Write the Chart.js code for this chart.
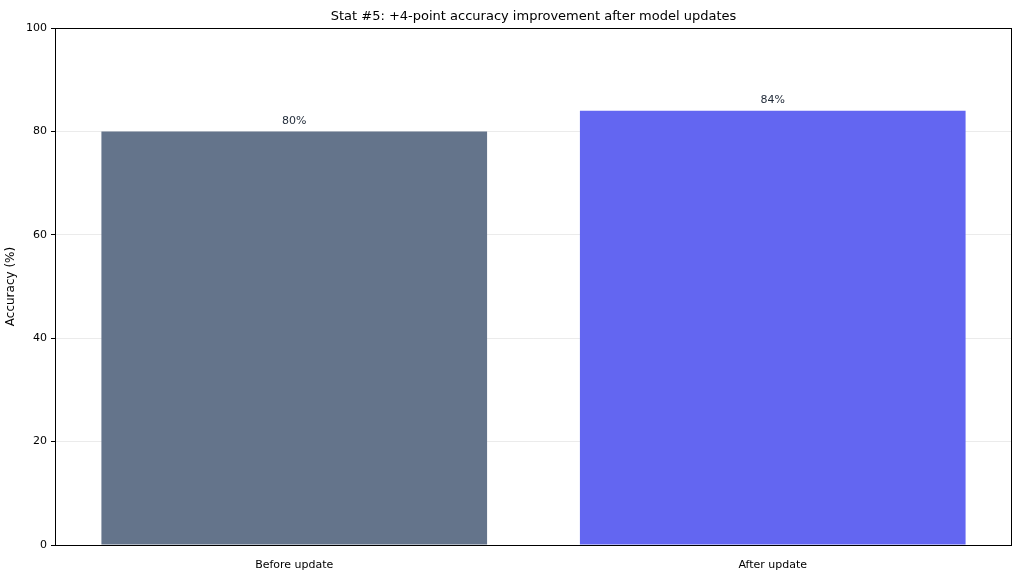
<!DOCTYPE html>
<html><head><meta charset="utf-8">
<script src="https://cdn.jsdelivr.net/npm/chart.js@4/dist/chart.umd.min.js"></script>
<style>html,body{margin:0;padding:0;background:#fff}#w{width:1024px;height:576px}</style>
</head><body><div id="w"><canvas id="c"></canvas></div>
<script>
const categories = ["Before update", "After update"];
const accuracy = [80, 84];
const valueLabels = ["80%", "84%"];
const yTicks = [0, 20, 40, 60, 80, 100];
const barColors = ["#64748b", "#6366f1"];
const titleText = "Stat #5: +4-point accuracy improvement after model updates";
const FONT = "'DejaVu Sans', sans-serif";

const deco = {
  id: 'deco',
  afterDatasetsDraw(chart) {
    const {ctx, chartArea: a} = chart;
    const meta = chart.getDatasetMeta(0);
    ctx.save();
    ctx.fillStyle = '#1f2937';
    ctx.font = "11px " + FONT;
    ctx.textAlign = 'center';
    ctx.textBaseline = 'bottom';
    meta.data.forEach((b, i) => ctx.fillText(valueLabels[i], b.x, b.y - 5));
    ctx.strokeStyle = '#000'; ctx.lineWidth = 1;
    ctx.strokeRect(a.left + 0.5, a.top + 0.5, a.right - a.left - 1, a.bottom - a.top);
    ctx.fillStyle = '#000';
    ctx.font = "13px " + FONT;
    ctx.textBaseline = 'middle';
    ctx.fillText(titleText, (a.left + a.right) / 2, 17);
    ctx.restore();
  }
};

new Chart(document.getElementById('c'), {
  type: 'bar',
  data: { labels: categories, datasets: [{ data: accuracy, backgroundColor: barColors, categoryPercentage: 1, barPercentage: 0.806 }] },
  options: {
    responsive: true, maintainAspectRatio: false, animation: false,
    layout: { padding: { top: 28, right: 12, left: 0, bottom: 0 } },
    plugins: { legend: { display: false }, tooltip: { enabled: false } },
    scales: {
      x: {
        grid: { display: false, drawTicks: true },
        border: { display: false },
        ticks: { color: '#000', font: { family: FONT, size: 11 }, padding: 6 },
        afterFit(s) { s.height = 31; }
      },
      y: {
        min: 0, max: 100,
        afterBuildTicks(s) { s.ticks = yTicks.map(v => ({ value: v })); },
        grid: { color: 'rgba(0,0,0,0.08)', tickColor: '#000', tickLength: 4 },
        border: { display: false },
        ticks: { color: '#000', font: { family: FONT, size: 11 }, padding: 4 },
        title: { display: true, text: 'Accuracy (%)', color: '#000', font: { family: FONT, size: 12 } },
        afterFit(s) { s.width = 55; }
      }
    }
  },
  plugins: [deco]
});
</script></body></html>
